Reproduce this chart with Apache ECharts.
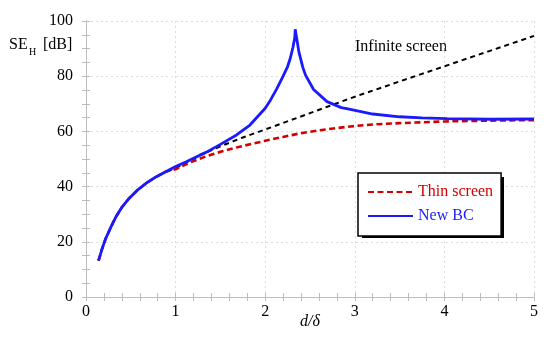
<!DOCTYPE html>
<html>
<head>
<meta charset="utf-8">
<script src="https://cdn.jsdelivr.net/npm/echarts@6/dist/echarts.min.js"></script>
<style>html,body{margin:0;padding:0;background:#fff}#c{width:550px;height:340px}</style>
</head>
<body>
<div id="c"></div>
<script>
// shared low-range values (curves coincide here)
const lowX = [0.14, 0.18, 0.22, 0.28, 0.335, 0.4, 0.48, 0.57, 0.67, 0.78, 0.89];
const lowY = [13.2, 17.5, 21.2, 25.5, 29.1, 32.5, 35.7, 38.6, 41.2, 43.5, 45.4];

const infX = [1.0, 1.15, 1.31, 1.5, 1.75, 2.0, 2.39, 2.7, 2.95, 3.5, 4.0, 4.5, 5.0];
const infY = [46.6, 49.2, 51.9, 54.6, 57.8, 60.7, 65.3, 69.0, 72.0, 78.1, 83.6, 89.1, 94.6];

const thinX = [1.0, 1.15, 1.31, 1.5, 1.68, 2.0, 2.2, 2.39, 2.6, 2.95, 3.2, 3.5, 4.0, 4.5, 5.0];
const thinY = [46.3, 48.6, 50.6, 52.6, 54.2, 56.6, 58.0, 59.3, 60.4, 61.8, 62.5, 63.0, 63.6, 63.9, 64.1];

const bcX = [1.0, 1.12, 1.27, 1.34, 1.5, 1.68, 1.83, 2.0, 2.06, 2.13, 2.2, 2.25, 2.28, 2.31, 2.33, 2.335, 2.345, 2.36, 2.375, 2.39, 2.42, 2.45, 2.54, 2.69, 2.85, 2.95, 3.2, 3.5, 3.75, 4.03, 4.5, 5.0];
const bcY = [47.3, 49.0, 51.4, 52.4, 55.3, 58.7, 62.3, 68.4, 71.4, 75.5, 80.0, 83.5, 86.5, 90.5, 94.0, 97.0, 95.0, 92.0, 89.0, 87.0, 83.2, 80.4, 75.2, 70.8, 68.6, 68.0, 66.3, 65.3, 64.9, 64.6, 64.4, 64.5];

const xTicks = ['0', '1', '2', '3', '4', '5'];
const yTicks = ['0', '20', '40', '60', '80', '100'];

function pairs(xs, ys) { return xs.map((x, i) => [x, ys[i]]); }
function withLow(xs, ys) { return pairs(lowX, lowY).concat(pairs(xs, ys)); }

const FONT = 'Liberation Serif';
const frame = '#bdbdbd';

function frameAxis(extra) {
  return Object.assign({
    axisLine: { show: true, lineStyle: { color: frame, width: 1 } },
    axisTick: { show: true, inside: true, length: 4, lineStyle: { color: frame } },
    minorTick: { show: true, length: 4, lineStyle: { color: frame } },
    axisLabel: { show: false },
    splitLine: { show: false }
  }, extra);
}

const chart = echarts.init(document.getElementById('c'));
chart.setOption({
  animation: false,
  backgroundColor: '#fff',
  grid: { left: 86, right: 16, top: 21, bottom: 43, containLabel: false, outerBoundsMode: 'none' },
  xAxis: [
    frameAxis({
      type: 'value', min: 0, max: 5, interval: 1, position: 'bottom',
      minorTick: { show: true, splitNumber: 5, length: 4, lineStyle: { color: frame } },
      axisLabel: { show: true, margin: 7, color: '#000', fontFamily: FONT, fontSize: 16,
        formatter: v => xTicks[Math.round(v)] },
      splitLine: { show: true, lineStyle: { color: '#dcdcdc', type: [2, 3], width: 1 } },
      name: 'd/δ', nameLocation: 'middle', nameGap: 17, nameMoveOverlap: false,
      nameTextStyle: { fontFamily: FONT, fontStyle: 'italic', fontSize: 16, color: '#000' }
    }),
    frameAxis({
      type: 'value', min: 0, max: 5, interval: 1, position: 'top',
      minorTick: { show: true, splitNumber: 5, length: 4, lineStyle: { color: frame } }
    })
  ],
  yAxis: [
    frameAxis({
      type: 'value', min: 0, max: 100, interval: 20, position: 'left',
      minorTick: { show: true, splitNumber: 4, length: 4, lineStyle: { color: frame } },
      axisLabel: { show: true, margin: 13, color: '#000', fontFamily: FONT, fontSize: 16,
        formatter: v => yTicks[Math.round(v / 20)] },
      splitLine: { show: true, lineStyle: { color: '#dcdcdc', type: [2, 3], width: 1 } }
    }),
    frameAxis({
      type: 'value', min: 0, max: 100, interval: 20, position: 'right',
      minorTick: { show: true, splitNumber: 4, length: 4, lineStyle: { color: frame } }
    })
  ],
  legend: {
    orient: 'vertical', left: 358, top: 173, z: 5,
    padding: [11, 8, 12, 9], itemGap: 8, itemWidth: 45, itemHeight: 14,
    backgroundColor: '#fff', borderColor: '#000', borderWidth: 1.5, borderRadius: 0,
    textStyle: { fontFamily: FONT, fontSize: 16, lineHeight: 15 },
    itemStyle: { opacity: 0 },
    data: [
      { name: 'Thin screen', textStyle: { color: '#d40000' }, itemStyle: { opacity: 0 } },
      { name: 'New BC', textStyle: { color: '#1a1aff' }, itemStyle: { opacity: 0 } }
    ]
  },
  graphic: [
    { type: 'rect', z: 3, shape: { x: 362, y: 177, width: 142, height: 61 }, style: { fill: '#000' } },
    { type: 'text', left: 9, top: 37, style: { text: 'SE', font: '16px "Liberation Serif"', fill: '#000' } },
    { type: 'text', left: 29, top: 47, style: { text: 'H', font: '10px "Liberation Serif"', fill: '#000' } },
    { type: 'text', left: 43, top: 37, style: { text: '[dB]', font: '16px "Liberation Serif"', fill: '#000' } },
    { type: 'text', left: 355, top: 39, style: { text: 'Infinite screen', font: '16px "Liberation Serif"', fill: '#000' } }
  ],
  series: [
    {
      name: 'Infinite screen', type: 'line', symbol: 'none', showSymbol: false,
      data: withLow(infX, infY),
      lineStyle: { color: '#000', width: 2, type: [5, 4] }, z: 2
    },
    {
      name: 'Thin screen', type: 'line', symbol: 'none', showSymbol: false,
      data: withLow(thinX, thinY),
      lineStyle: { color: '#d40000', width: 2.6, type: [6, 3.5] }, itemStyle: { color: '#d40000' }, z: 3
    },
    {
      name: 'New BC', type: 'line', symbol: 'none', showSymbol: false,
      data: withLow(bcX, bcY),
      lineStyle: { color: '#1a1aff', width: 2.8 }, itemStyle: { color: '#1a1aff' }, z: 4
    }
  ]
});
</script>
</body>
</html>
